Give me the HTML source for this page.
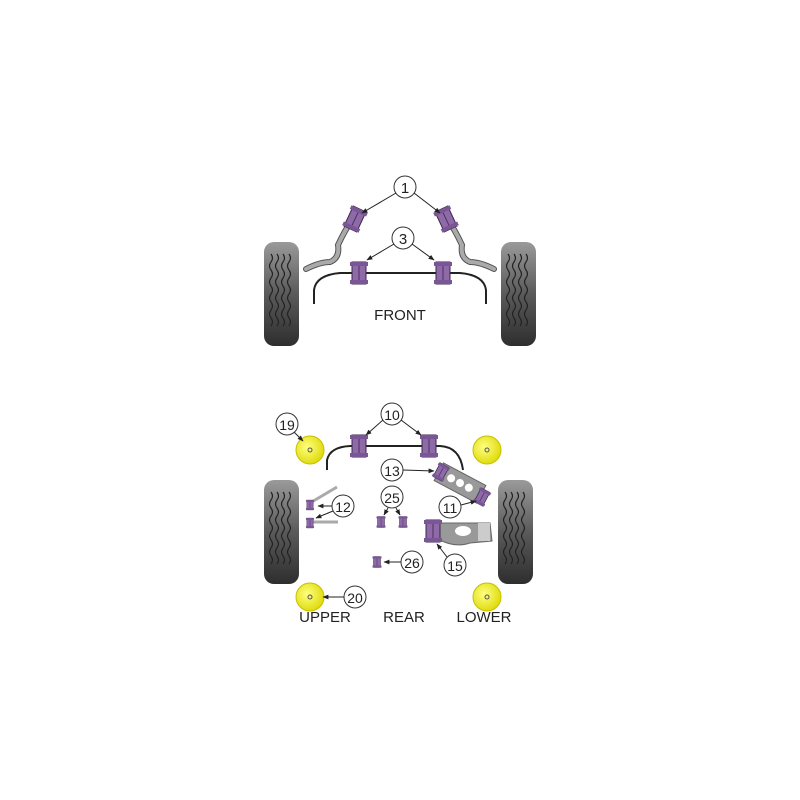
<!DOCTYPE html>
<html><head><style>body{margin:0;background:#fff}svg{display:block}text{font-family:"Liberation Sans",sans-serif;fill:#222}</style></head><body>
<svg width="800" height="800" viewBox="0 0 800 800" xmlns="http://www.w3.org/2000/svg">
<defs>
<linearGradient id="tg" x1="0" y1="0" x2="0" y2="1"><stop offset="0" stop-color="#9a9a9a"/><stop offset="0.5" stop-color="#5a5a5a"/><stop offset="1" stop-color="#2e2e2e"/></linearGradient>
<radialGradient id="yg" cx="0.4" cy="0.4" r="0.6"><stop offset="0" stop-color="#ffff80"/><stop offset="1" stop-color="#e0dc10"/></radialGradient>
<marker id="ah" viewBox="0 0 10 10" refX="9" refY="5" markerWidth="6" markerHeight="6" orient="auto"><path d="M0,1 L10,5 L0,9z" fill="#222"/></marker>
<g id="tire"><rect x="0" y="0" width="35" height="104" rx="10" fill="url(#tg)"/>
<g fill="none" stroke="#222" stroke-width="1.2">
<path d="M7,12 q3,4 0,8 q-3,4 0,8 q3,4 0,8 q-3,4 0,8 q3,4 0,8 q-3,4 0,8 q3,4 0,8 q-3,4 0,8 q3,4 0,8"/>
<path d="M13,12 q3,4 0,8 q-3,4 0,8 q3,4 0,8 q-3,4 0,8 q3,4 0,8 q-3,4 0,8 q3,4 0,8 q-3,4 0,8 q3,4 0,8"/>
<path d="M19,12 q3,4 0,8 q-3,4 0,8 q3,4 0,8 q-3,4 0,8 q3,4 0,8 q-3,4 0,8 q3,4 0,8 q-3,4 0,8 q3,4 0,8"/>
<path d="M25,12 q3,4 0,8 q-3,4 0,8 q3,4 0,8 q-3,4 0,8 q3,4 0,8 q-3,4 0,8 q3,4 0,8 q-3,4 0,8 q3,4 0,8"/>
</g></g>
<g id="bush"><rect x="-7" y="-11" width="14" height="22" fill="#8e6aa8" stroke="#3a2a4a" stroke-width="1"/><rect x="-9" y="-11" width="18" height="4" fill="#7a5696"/><rect x="-9" y="7" width="18" height="4" fill="#7a5696"/><line x1="0" y1="-7" x2="0" y2="7" stroke="#4a3060"/></g>
<g id="yb"><circle r="14" fill="url(#yg)" stroke="#c8c000"/><circle r="2" fill="none" stroke="#555"/></g>
</defs>
<!-- FRONT -->
<use href="#tire" x="264" y="242"/>
<use href="#tire" x="501" y="242"/>
<path d="M306,269 Q320,262 330,262 Q340,258 338,245 Q345,230 352,220" fill="none" stroke="#555" stroke-width="6" stroke-linecap="round"/>
<path d="M306,269 Q320,262 330,262 Q340,258 338,245 Q345,230 352,220" fill="none" stroke="#aaa" stroke-width="4" stroke-linecap="round"/>
<path d="M494,269 Q480,262 470,262 Q460,258 462,245 Q455,230 448,220" fill="none" stroke="#555" stroke-width="6" stroke-linecap="round"/>
<path d="M494,269 Q480,262 470,262 Q460,258 462,245 Q455,230 448,220" fill="none" stroke="#aaa" stroke-width="4" stroke-linecap="round"/>
<g transform="translate(355,219) rotate(25)"><use href="#bush"/></g>
<g transform="translate(446,219) rotate(-25)"><use href="#bush"/></g>
<path d="M314,304 L314,290 Q316,275 340,273 L460,273 Q484,275 486,290 L486,304" fill="none" stroke="#222" stroke-width="2"/>
<use href="#bush" x="359" y="273"/><use href="#bush" x="443" y="273"/>
<circle cx="405" cy="187" r="11" fill="#fff" stroke="#333"/><text x="405" y="193" font-size="15" text-anchor="middle">1</text>
<line x1="396" y1="193" x2="362" y2="213" stroke="#222" marker-end="url(#ah)"/>
<line x1="414" y1="193" x2="440" y2="213" stroke="#222" marker-end="url(#ah)"/>
<circle cx="403" cy="238" r="11" fill="#fff" stroke="#333"/><text x="403" y="244" font-size="15" text-anchor="middle">3</text>
<line x1="394" y1="244" x2="367" y2="260" stroke="#222" marker-end="url(#ah)"/>
<line x1="412" y1="244" x2="434" y2="260" stroke="#222" marker-end="url(#ah)"/>
<text x="400" y="320" font-size="15" text-anchor="middle">FRONT</text>
<!-- REAR -->
<use href="#tire" x="264" y="480"/>
<use href="#tire" x="498" y="480"/>
<path d="M327,470 L327,460 Q330,447 350,446 L440,446 Q460,447 463,470" fill="none" stroke="#222" stroke-width="2"/>
<use href="#bush" x="359" y="446"/><use href="#bush" x="429" y="446"/>
<circle cx="392" cy="414" r="11" fill="#fff" stroke="#333"/><text x="392" y="420" font-size="14" text-anchor="middle">10</text>
<line x1="383" y1="420" x2="366" y2="435" stroke="#222" marker-end="url(#ah)"/>
<line x1="401" y1="420" x2="421" y2="435" stroke="#222" marker-end="url(#ah)"/>
<use href="#yb" x="310" y="450"/><use href="#yb" x="487" y="450"/><use href="#yb" x="310" y="597"/><use href="#yb" x="487" y="597"/>
<circle cx="287" cy="424" r="11" fill="#fff" stroke="#333"/><text x="287" y="430" font-size="14" text-anchor="middle">19</text>
<line x1="294" y1="432" x2="303" y2="441" stroke="#222" marker-end="url(#ah)"/>
<circle cx="355" cy="597" r="11" fill="#fff" stroke="#333"/><text x="355" y="603" font-size="14" text-anchor="middle">20</text>
<line x1="344" y1="597" x2="323" y2="597" stroke="#222" marker-end="url(#ah)"/>
<!-- arm 13 -->
<g transform="translate(460,483) rotate(28)"><rect x="-24" y="-10" width="48" height="20" fill="#999" stroke="#666"/><circle cx="-10" cy="0" r="4" fill="#fff"/><circle cx="0" cy="0" r="4" fill="#fff"/><circle cx="10" cy="0" r="4" fill="#fff"/></g>
<g transform="translate(441,472) rotate(28) scale(0.7)"><use href="#bush"/></g>
<g transform="translate(482,497) rotate(28) scale(0.7)"><use href="#bush"/></g>
<circle cx="392" cy="470" r="11" fill="#fff" stroke="#333"/><text x="392" y="476" font-size="14" text-anchor="middle">13</text>
<line x1="403" y1="470" x2="434" y2="471" stroke="#222" marker-end="url(#ah)"/>
<circle cx="450" cy="507" r="11" fill="#fff" stroke="#333"/><text x="450" y="513" font-size="14" text-anchor="middle">11</text>
<line x1="461" y1="505" x2="476" y2="501" stroke="#222" marker-end="url(#ah)"/>
<!-- arm 15 -->
<path d="M428,523 L490,523 L492,541 L470,543 Q455,548 440,540 L428,540z" fill="#999" stroke="#666"/>
<rect x="478" y="523" width="12" height="18" fill="#ccc"/>
<ellipse cx="463" cy="531" rx="8" ry="5" fill="#fff"/>
<use href="#bush" x="433" y="531"/>
<circle cx="455" cy="565" r="11" fill="#fff" stroke="#333"/><text x="455" y="571" font-size="14" text-anchor="middle">15</text>
<line x1="447" y1="557" x2="437" y2="544" stroke="#222" marker-end="url(#ah)"/>
<!-- 12 links -->
<line x1="310" y1="503" x2="337" y2="487" stroke="#aaa" stroke-width="3"/>
<line x1="310" y1="522" x2="338" y2="522" stroke="#aaa" stroke-width="3"/>
<g transform="translate(310,505) scale(0.45)"><use href="#bush"/></g>
<g transform="translate(310,523) scale(0.45)"><use href="#bush"/></g>
<circle cx="343" cy="506" r="11" fill="#fff" stroke="#333"/><text x="343" y="512" font-size="14" text-anchor="middle">12</text>
<line x1="332" y1="506" x2="318" y2="506" stroke="#222" marker-end="url(#ah)"/>
<line x1="333" y1="511" x2="316" y2="518" stroke="#222" marker-end="url(#ah)"/>
<!-- 25 -->
<circle cx="392" cy="497" r="11" fill="#fff" stroke="#333"/><text x="392" y="503" font-size="14" text-anchor="middle">25</text>
<line x1="388" y1="508" x2="384" y2="515" stroke="#222" marker-end="url(#ah)"/>
<line x1="396" y1="508" x2="400" y2="515" stroke="#222" marker-end="url(#ah)"/>
<g transform="translate(381,522) scale(0.5)"><use href="#bush"/></g>
<g transform="translate(403,522) scale(0.5)"><use href="#bush"/></g>
<!-- 26 -->
<g transform="translate(377,562) scale(0.5)"><use href="#bush"/></g>
<circle cx="412" cy="562" r="11" fill="#fff" stroke="#333"/><text x="412" y="568" font-size="14" text-anchor="middle">26</text>
<line x1="401" y1="562" x2="384" y2="562" stroke="#222" marker-end="url(#ah)"/>
<text x="325" y="622" font-size="15" text-anchor="middle">UPPER</text>
<text x="404" y="622" font-size="15" text-anchor="middle">REAR</text>
<text x="484" y="622" font-size="15" text-anchor="middle">LOWER</text>
</svg>
</body></html>
